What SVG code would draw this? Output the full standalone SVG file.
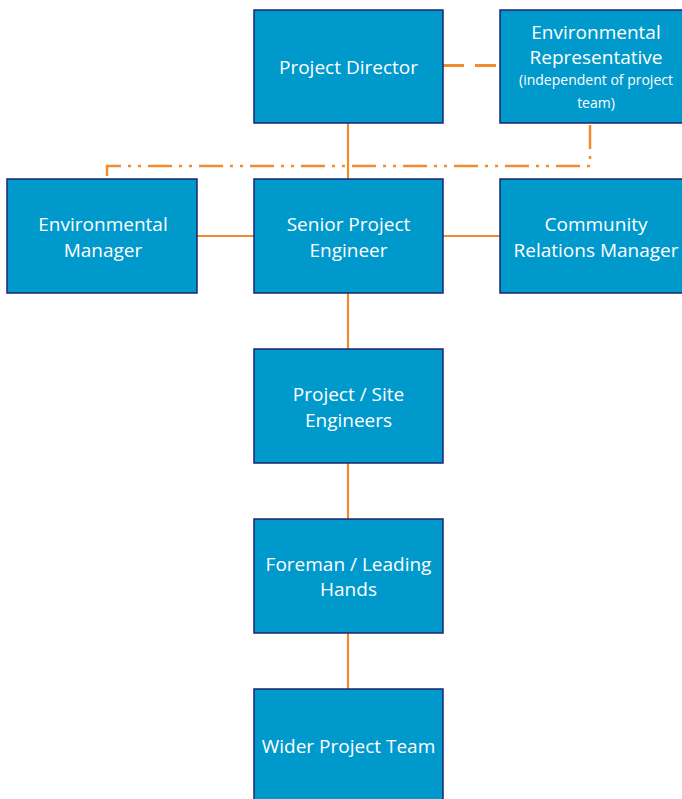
<svg xmlns="http://www.w3.org/2000/svg" width="682" height="799" viewBox="0 0 682 799">
  <style>
    .box { fill: #0099CC; stroke: #1F2470; stroke-width: 1.5; }
    .lbl { fill: #FFFFFF; font-family: "Open Sans", "Noto Sans", "Liberation Sans", sans-serif; font-size: 19px; text-anchor: middle; }
    .small { font-size: 14px; }
    .link { fill: none; stroke: #F28A30; stroke-width: 2.2; }
    .dash { stroke-width: 3; stroke-dasharray: 21 11; }
    .dashdot { stroke-width: 2.5; stroke-dasharray: 24 7 3 7 3 7; }
  </style>
  <rect width="682" height="799" fill="#FFFFFF"/>

  <g id="connectors">
    <line class="link" x1="348" y1="123" x2="348" y2="179"/>
    <line class="link" x1="197" y1="236" x2="254" y2="236"/>
    <line class="link" x1="443" y1="236" x2="500" y2="236"/>
    <line class="link" x1="348" y1="293" x2="348" y2="349"/>
    <line class="link" x1="348" y1="463" x2="348" y2="519"/>
    <line class="link" x1="348" y1="633" x2="348" y2="689"/>
    <line class="link dash" x1="443" y1="65.5" x2="500" y2="65.5"/>
    <polyline class="link dashdot" points="590,125 590,166 107,166 107,179"/>
  </g>

  <g id="project-director">
    <rect class="box" x="254" y="10" width="189" height="113"/>
    <text class="lbl" x="348.5" y="74">Project Director</text>
  </g>

  <g id="environmental-representative">
    <rect class="box" x="500" y="10" width="189" height="113"/>
    <text class="lbl" x="596" y="39">Environmental</text>
    <text class="lbl" x="596" y="64">Representative</text>
    <text class="lbl small" x="596" y="85">(independent of project</text>
    <text class="lbl small" x="596" y="108">team)</text>
  </g>

  <g id="environmental-manager">
    <rect class="box" x="7" y="179" width="190" height="114"/>
    <text class="lbl" x="103" y="231">Environmental</text>
    <text class="lbl" x="103" y="257">Manager</text>
  </g>

  <g id="senior-project-engineer">
    <rect class="box" x="254" y="179" width="189" height="114"/>
    <text class="lbl" x="348.5" y="231">Senior Project</text>
    <text class="lbl" x="348.5" y="257">Engineer</text>
  </g>

  <g id="community-relations-manager">
    <rect class="box" x="500" y="179" width="189" height="114"/>
    <text class="lbl" x="596" y="231">Community</text>
    <text class="lbl" x="596" y="257">Relations Manager</text>
  </g>

  <g id="project-site-engineers">
    <rect class="box" x="254" y="349" width="189" height="114"/>
    <text class="lbl" x="348.5" y="401">Project / Site</text>
    <text class="lbl" x="348.5" y="427">Engineers</text>
  </g>

  <g id="foreman-leading-hands">
    <rect class="box" x="254" y="519" width="189" height="114"/>
    <text class="lbl" x="348.5" y="571">Foreman / Leading</text>
    <text class="lbl" x="348.5" y="596">Hands</text>
  </g>

  <g id="wider-project-team">
    <rect class="box" x="254" y="689" width="189" height="120"/>
    <text class="lbl" x="348.5" y="753">Wider Project Team</text>
  </g>
</svg>
